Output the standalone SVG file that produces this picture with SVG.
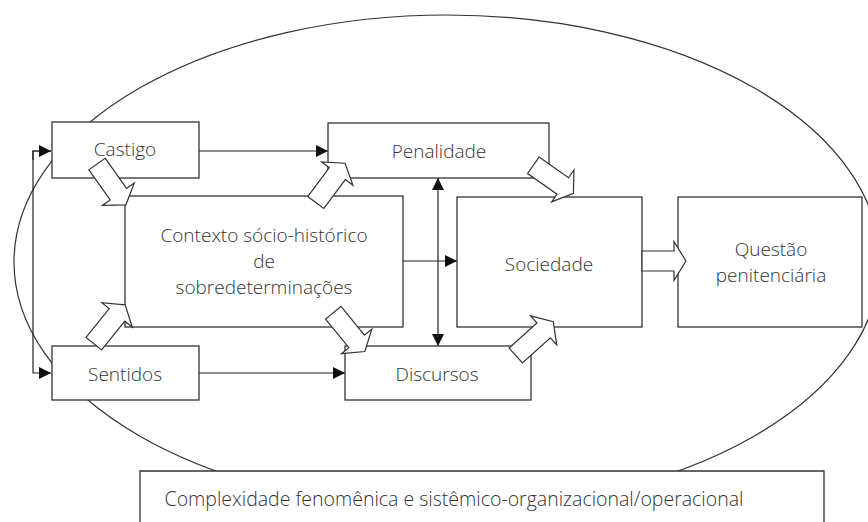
<svg xmlns="http://www.w3.org/2000/svg" width="868" height="522" viewBox="0 0 868 522">
<style>
.box{fill:#fff;stroke:#333;stroke-width:1.3}
.ln{fill:none;stroke:#222;stroke-width:1.2}
.blk{fill:#fff;stroke:#333;stroke-width:1.2;stroke-linejoin:miter}
text{font-family:"Open Sans","Liberation Sans",sans-serif;font-size:19px;font-weight:300;fill:#333;text-anchor:middle}
</style>
<defs>
<marker id="ah" viewBox="0 0 12 12" refX="12" refY="6" markerWidth="12" markerHeight="12" markerUnits="userSpaceOnUse" orient="auto">
<path d="M0,0 L12,6 L0,12 Z" fill="#111"/>
</marker>
</defs>
<rect width="868" height="522" fill="#fff"/>
<ellipse id="contorno" cx="447" cy="262" rx="433" ry="247" fill="none" stroke="#333" stroke-width="1.2"/>
<g id="connectors">
<path class="ln" d="M51,151 H33 V373 H51" marker-end="url(#ah)"/>
<path class="ln" d="M33,160 V151 H51" marker-end="url(#ah)"/>
<path class="ln" d="M199,151 H328" marker-end="url(#ah)"/>
<path class="ln" d="M199,373 H345" marker-end="url(#ah)"/>
<path class="ln" d="M403,261 H457" marker-end="url(#ah)"/>
<path class="ln" d="M438,262 V178" marker-end="url(#ah)"/>
<path class="ln" d="M438,262 V346" marker-end="url(#ah)"/>
</g>
<g id="castigo"><rect class="box" x="52" y="122" width="147" height="56"/><text x="125" y="156">Castigo</text></g>
<g id="penalidade"><rect class="box" x="328" y="123" width="221" height="55"/><text x="439" y="158">Penalidade</text></g>
<g id="contexto"><rect class="box" x="125" y="196" width="278" height="131"/><text x="264" y="242">Contexto sócio-histórico</text><text x="264" y="268">de</text><text x="264" y="294">sobredeterminações</text></g>
<g id="sociedade"><rect class="box" x="457" y="197" width="185" height="130"/><text x="549" y="271">Sociedade</text></g>
<g id="questao"><rect class="box" x="678" y="197" width="184" height="130"/><text x="771" y="256">Questão</text><text x="771" y="282">penitenciária</text></g>
<g id="sentidos"><rect class="box" x="52" y="346" width="147" height="54"/><text x="125" y="381">Sentidos</text></g>
<g id="discursos"><rect class="box" x="345" y="346" width="186" height="54"/><text x="437" y="381">Discursos</text></g>
<g id="complexidade"><rect x="140" y="471" width="684" height="51" fill="#fff"/><path class="box" d="M140,522 V471 H824 V522"/><text x="454" y="506" style="font-size:19.5px">Complexidade fenomênica e sistêmico-organizacional/operacional</text></g>
<g id="block-arrows">
<path class="blk" transform="translate(97,164) rotate(54.7)" d="M0,-10 H37 V-19.5 L50,0 L37,19.5 V10 H0 Z"/>
<path class="blk" transform="translate(315.8,202.5) rotate(-53.3)" d="M0,-10 H36 V-19.5 L49,0 L36,19.5 V10 H0 Z"/>
<path class="blk" transform="translate(93.8,343.7) rotate(-51.1)" d="M0,-10 H37 V-19.5 L50,0 L37,19.5 V10 H0 Z"/>
<path class="blk" transform="translate(333.3,312.7) rotate(50.9)" d="M0,-10 H37 V-19.5 L50,0 L37,19.5 V10 H0 Z"/>
<path class="blk" transform="translate(515.8,355.5) rotate(-42)" d="M0,-10 H37.5 V-19.5 L50.5,0 L37.5,19.5 V10 H0 Z"/>
<path class="blk" transform="translate(533.3,165.3) rotate(35)" d="M0,-10 H36 V-19.5 L49,0 L36,19.5 V10 H0 Z"/>
<path class="blk" transform="translate(642,261)" d="M0,-10 H32 V-19.3 L44,0 L32,19.3 V10 H0 Z"/>
</g>
</svg>
